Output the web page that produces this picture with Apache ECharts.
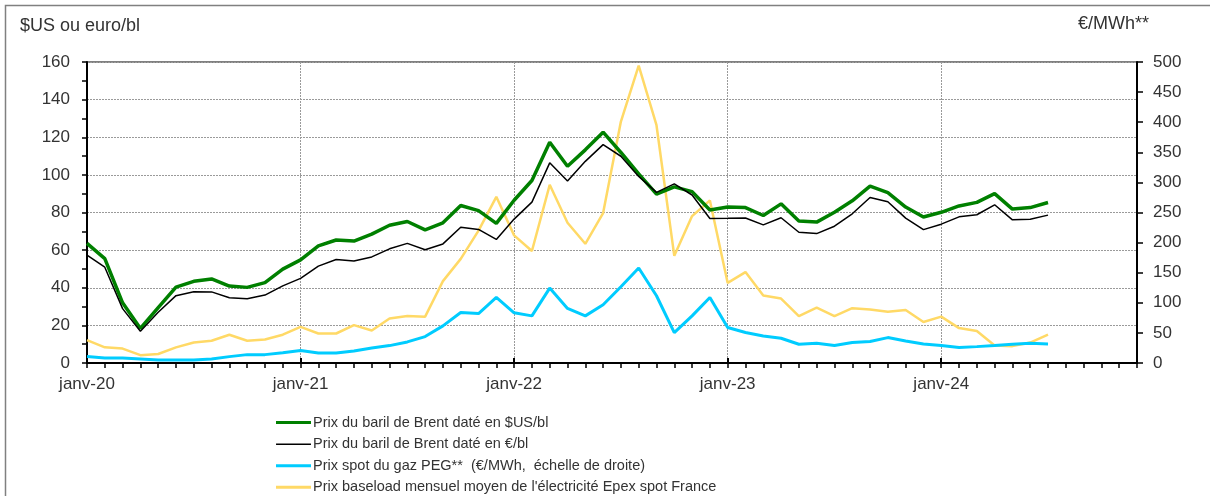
<!DOCTYPE html>
<html>
<head>
<meta charset="utf-8">
<script src="https://cdn.jsdelivr.net/npm/echarts@6/dist/echarts.min.js"></script>
<style>
html,body{margin:0;padding:0;background:#fff;}
#chart{width:1210px;height:496px;}
</style>
</head>
<body>
<div id="chart"></div>
<script>
// Categories: monthly, janv-20 .. déc-24
const monthNames = ['janv','févr','mars','avr','mai','juin','juil','août','sept','oct','nov','déc'];
const years = ['20','21','22','23','24'];
const categories = [];
years.forEach(y => monthNames.forEach(m => categories.push(m + '-' + y)));

const seriesNames = [
  'Prix du baril de Brent daté en $US/bl',
  'Prix du baril de Brent daté en €/bl',
  'Prix spot du gaz PEG**  (€/MWh,  échelle de droite)',
  "Prix baseload mensuel moyen de l'électricité Epex spot France"
];

// Brent, $US/bl (left axis)
const brentUSD = [
  63.6, 55.5, 32.0, 18.4, 29.4, 40.3, 43.4, 44.7, 40.9, 40.2, 42.7, 49.9,
  54.8, 62.3, 65.4, 64.8, 68.5, 73.2, 75.2, 70.8, 74.5, 83.7, 81.0, 74.2,
  86.5, 97.0, 117.3, 104.6, 113.3, 122.7, 111.9, 100.5, 89.8, 93.6, 91.1, 81.3,
  82.9, 82.6, 78.4, 84.6, 75.5, 74.9, 80.1, 86.2, 94.0, 90.6, 82.9, 77.6,
  80.1, 83.5, 85.4, 90.0, 81.8, 82.6, 85.3
];
// Brent, €/bl (left axis)
const brentEUR = [
  57.3, 50.9, 28.9, 16.9, 27.0, 35.8, 37.9, 37.8, 34.7, 34.2, 36.1, 41.0,
  45.0, 51.5, 55.0, 54.2, 56.4, 60.7, 63.6, 60.2, 63.3, 72.2, 71.0, 65.7,
  76.5, 85.5, 106.4, 96.7, 107.2, 116.1, 109.9, 99.2, 90.7, 95.2, 89.3, 76.8,
  76.9, 77.1, 73.4, 77.2, 69.5, 68.8, 72.7, 79.3, 88.0, 85.7, 77.0, 70.9,
  73.8, 77.7, 78.8, 84.1, 76.1, 76.4, 78.6
];
// Gaz PEG, €/MWh (right axis)
const gasPEG = [
  10.6, 8.3, 8.3, 6.7, 5.0, 5.0, 5.0, 6.7, 10.6, 13.9, 13.9, 17.2,
  20.6, 16.7, 16.7, 20.0, 25.0, 28.9, 35.0, 43.9, 61.7, 83.9, 82.2, 108.9,
  83.3, 78.3, 124.4, 90.6, 78.3, 96.7, 126.7, 157.8, 111.7, 50.6, 78.3, 108.9,
  58.9, 50.6, 45.0, 41.1, 31.1, 32.8, 28.9, 33.9, 35.6, 42.2, 36.7, 31.7,
  28.9, 25.6, 27.2, 28.9, 31.1, 32.8, 31.7
];
// Electricité Epex spot France, €/MWh (right axis)
const elecEpex = [
  38, 26, 24, 13, 15, 26, 34, 37, 47, 37, 39, 47,
  60, 49, 49, 63, 54, 74, 78, 77, 136, 173, 220, 276,
  212, 186, 296, 233, 198, 249, 401, 494, 395, 178, 244, 270,
  133, 151, 112, 107, 78, 92, 78, 91, 89, 85, 88, 68,
  77, 58, 53, 29, 28, 34, 47
];

const leftTitle = '$US ou euro/bl';
const rightTitle = '€/MWh**';

const FONT = '"Liberation Sans", Arial, sans-serif';
const TXT = '#333333';

// legend line icons (thick / thin), bbox padded with invisible points
const THICK = 'path://M0,0H35V3H0Z';
const THIN = 'path://M0,0H0.01V0.01H0Z M0,1H35V2.3H0Z M0,3H0.01V3.01H0Z';

const chart = echarts.init(document.getElementById('chart'), null, {renderer: 'canvas'});
chart.setOption({
  animation: false,
  backgroundColor: '#ffffff',
  textStyle: {fontFamily: FONT},
  graphic: [
    {type: 'rect', shape: {x: 5.5, y: 5.5, width: 1400, height: 700},
     style: {fill: 'none', stroke: '#808080', lineWidth: 1.5}, silent: true, z: -1},
    {type: 'text', left: 20, top: 17,
     style: {text: leftTitle, font: '18px ' + FONT, fill: TXT}},
    {type: 'text', left: 1078, top: 15,
     style: {text: rightTitle, font: '18px ' + FONT, fill: TXT}}
  ],
  grid: {left: 87, right: 73, top: 62, bottom: 133, show: true,
         borderColor: '#000', borderWidth: 1, backgroundColor: 'transparent'},
  legend: {
    orient: 'vertical', left: 276, top: 415, height: 200, width: 800, padding: 0,
    itemWidth: 35, itemHeight: 3, itemGap: 6.6,
    textStyle: {fontSize: 14.5, color: TXT, fontFamily: FONT, padding: [0, 0, 0, -3]},
    data: [
      {name: seriesNames[0], icon: THICK},
      {name: seriesNames[1], icon: THIN},
      {name: seriesNames[2], icon: THICK},
      {name: seriesNames[3], icon: THICK}
    ],
    selectedMode: false
  },
  xAxis: [{
    type: 'category', data: categories, boundaryGap: false,
    axisLine: {lineStyle: {color: '#000', width: 2}},
    axisTick: {interval: 0, length: 5, lineStyle: {color: '#000', width: 1.5}},
    axisLabel: {interval: 11, margin: 13, fontSize: 17, color: TXT, fontFamily: FONT},
    splitLine: {show: true, interval: 11, lineStyle: {color: '#9a9a9a', type: [2, 1], width: 1}}
  }, {
    type: 'category', data: categories, boundaryGap: false, position: 'bottom',
    axisLine: {show: false},
    axisTick: {interval: 11, inside: true, length: 5, lineStyle: {color: '#000', width: 2}},
    axisLabel: {show: false}, splitLine: {show: false}
  }],
  yAxis: [{
    type: 'value', min: 0, max: 160, interval: 20, position: 'left',
    axisLine: {show: true, lineStyle: {color: '#000', width: 2}},
    axisTick: {show: true, length: 5, lineStyle: {color: '#000', width: 1.5}},
    minorTick: {show: true, splitNumber: 2, length: 5, lineStyle: {color: '#000', width: 1.5}},
    axisLabel: {margin: 17, fontSize: 17, color: TXT, fontFamily: FONT},
    splitLine: {show: true, lineStyle: {color: '#9a9a9a', type: [2, 1], width: 1}}
  }, {
    type: 'value', min: 0, max: 500, interval: 50, position: 'right',
    axisLine: {show: true, lineStyle: {color: '#000', width: 2}},
    axisTick: {show: true, length: 6, lineStyle: {color: '#000', width: 1.5}},
    axisLabel: {margin: 16, fontSize: 17, color: TXT, fontFamily: FONT},
    splitLine: {show: false}
  }],
  series: [
    {name: seriesNames[0], type: 'line', yAxisIndex: 0, data: brentUSD, symbol: 'none',
     color: '#008000', lineStyle: {width: 3.5, color: '#008000'}, z: 4},
    {name: seriesNames[1], type: 'line', yAxisIndex: 0, data: brentEUR, symbol: 'none',
     color: '#000000', lineStyle: {width: 1.5, color: '#000000'}, z: 5},
    {name: seriesNames[2], type: 'line', yAxisIndex: 1, data: gasPEG, symbol: 'none',
     color: '#00CCFF', lineStyle: {width: 3, color: '#00CCFF'}, z: 3},
    {name: seriesNames[3], type: 'line', yAxisIndex: 1, data: elecEpex, symbol: 'none',
     color: '#FFD966', lineStyle: {width: 2.5, color: '#FFD966'}, z: 2}
  ]
});
</script>
</body>
</html>
